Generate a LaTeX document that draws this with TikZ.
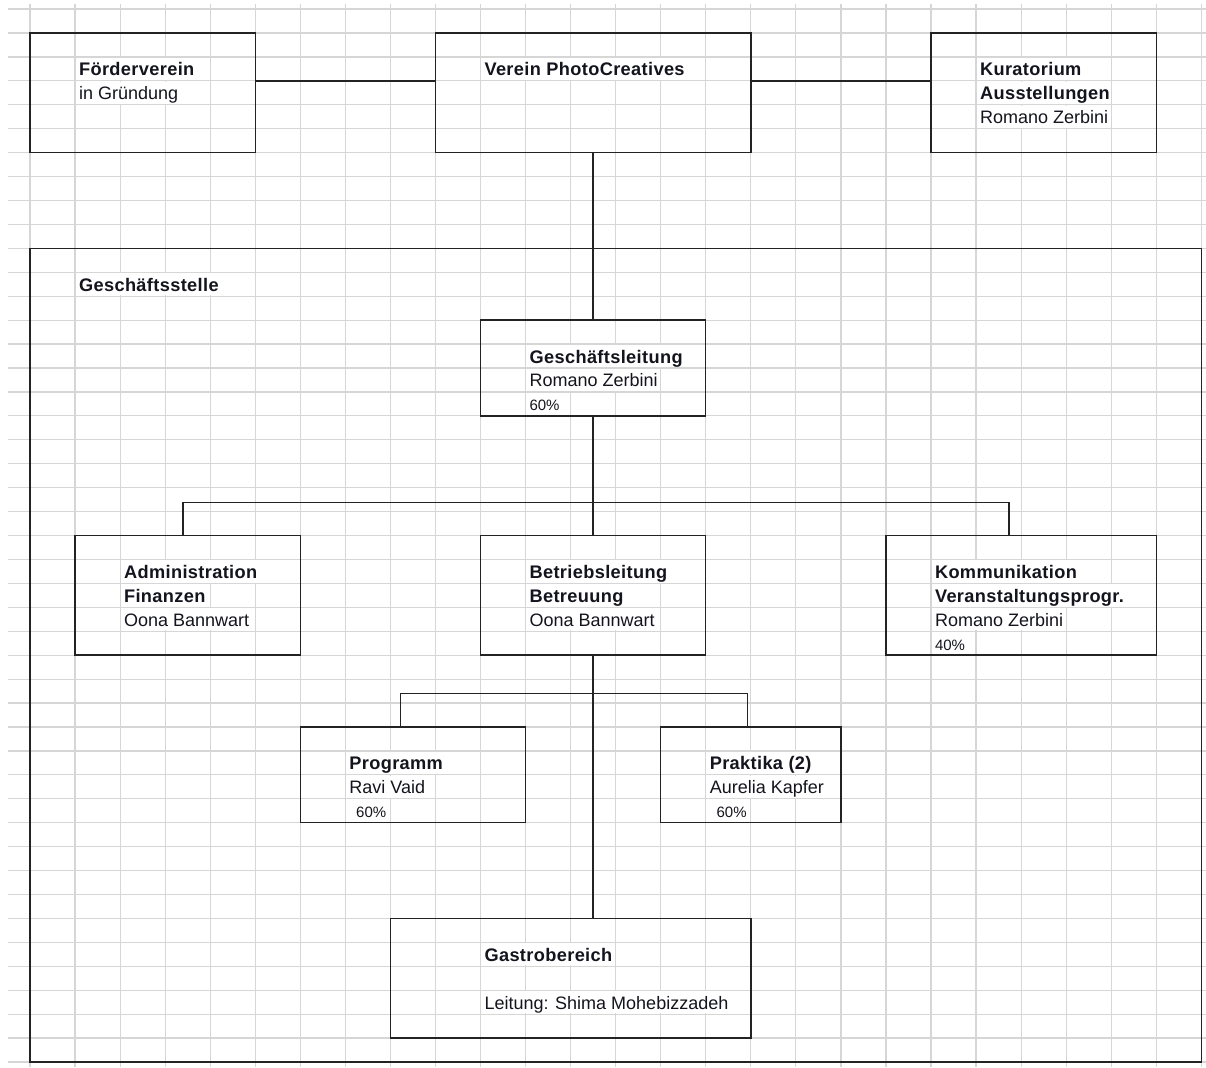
\documentclass[tikz,border=0pt]{standalone}
\usepackage{fontspec}
\setmainfont{Liberation Sans}[BoldFeatures={LetterSpace=2.0}]
\usetikzlibrary{fit}

\definecolor{gridgray}{RGB}{214,214,214}
\definecolor{linegray}{RGB}{35,35,35}
\definecolor{ink}{RGB}{20,20,30}

\tikzset{
  gridline/.style={draw=gridgray, line width=0.6pt},
  box/.style={draw=linegray, line width=0.7pt, inner sep=0pt},
  link/.style={draw=linegray, line width=0.7pt},
  cell/.style={anchor=base west, inner sep=0pt, xshift=1.8pt, yshift=2.5pt,
    fill=white, text height=9.1pt, text depth=2.1pt, text=ink,
    font=\fontsize{9pt}{11pt}\selectfont},
  head/.style={cell, font=\fontsize{9.1pt}{11pt}\selectfont\bfseries},
  pct/.style={cell, font=\fontsize{7.5pt}{9pt}\selectfont},
}

\begin{document}
\begin{tikzpicture}[x=22.525pt, y=-11.965pt]
    \useasboundingbox (-0.666, -1.379) rectangle (26.104, 43.21);

    % spreadsheet grid
    \foreach \c in {0,...,26}
        \draw[gridline] (\c, -1.21) -- (\c, 43.21);
    \foreach \r in {-1,...,43}
        \draw[gridline] (-0.488, \r) -- (26.104, \r);

    % texts
    \node[head] at (1, 2)     (foerder1) {Förderverein};
    \node[cell] at (1, 3)     (foerder2) {in Gründung};
    \node[head] at (10, 2)    (verein1)  {Verein PhotoCreatives};
    \node[head] at (21, 2)    (kurat1)   {Kuratorium};
    \node[head] at (21, 3)    (kurat2)   {Ausstellungen};
    \node[cell] at (21, 4)    (kurat3)   {Romano Zerbini};
    \node[head] at (1, 11)    (gst1)     {Geschäftsstelle};
    \node[head] at (11, 14)   (gl1)      {Geschäftsleitung};
    \node[cell] at (11, 15)   (gl2)      {Romano Zerbini};
    \node[pct]  at (11, 16)   (gl3)      {60\%};
    \node[head] at (2, 23)    (admin1)   {Administration};
    \node[head] at (2, 24)    (admin2)   {Finanzen};
    \node[cell] at (2, 25)    (admin3)   {Oona Bannwart};
    \node[head] at (11, 23)   (bl1)      {Betriebsleitung};
    \node[head] at (11, 24)   (bl2)      {Betreuung};
    \node[cell] at (11, 25)   (bl3)      {Oona Bannwart};
    \node[head] at (20, 23)   (komm1)    {Kommunikation};
    \node[head] at (20, 24)   (komm2)    {Veranstaltungsprogr.};
    \node[cell] at (20, 25)   (komm3)    {Romano Zerbini};
    \node[pct]  at (20, 26)   (komm4)    {40\%};
    \node[head] at (7, 31)    (prog1)    {Programm};
    \node[cell] at (7, 32)    (prog2)    {Ravi Vaid};
    \node[pct]  at (7, 33)    (prog3)    {\hspace{3.4pt}60\%};
    \node[head] at (15, 31)   (prak1)    {Praktika (2)};
    \node[cell] at (15, 32)   (prak2)    {Aurelia Kapfer};
    \node[pct]  at (15, 33)   (prak3)    {\hspace{3.4pt}60\%};
    \node[head] at (10, 39)   (gastro1)  {Gastrobereich};
    \node[cell] at (10, 41)   (gastro2)  {Leitung: Shima Mohebizzadeh};

    % boxes
    \node[box, fit={(0,0) (5,5)}]     (foerder) {};
    \node[box, fit={(9,0) (16,5)}]    (verein)  {};
    \node[box, fit={(20,0) (25,5)}]   (kurat)   {};
    \node[box, fit={(0,9) (26,43)}]   (gst)     {};
    \node[box, fit={(10,12) (15,16)}] (gl)      {};
    \node[box, fit={(1,21) (6,26)}]   (admin)   {};
    \node[box, fit={(10,21) (15,26)}] (bl)      {};
    \node[box, fit={(19,21) (25,26)}] (komm)    {};
    \node[box, fit={(6,29) (11,33)}]  (prog)    {};
    \node[box, fit={(14,29) (18,33)}] (prak)    {};
    \node[box, fit={(8,37) (16,42)}]  (gastro)  {};

    % connectors
    \coordinate (toprow)   at (0, 2);
    \coordinate (adminbar) at (3.40, 19.61);
    \coordinate (kommbar)  at (21.73, 19.61);
    \coordinate (progbar)  at (8.22, 27.59);
    \coordinate (prakbar)  at (15.92, 27.59);

    \draw[link] (foerder.east |- toprow) -- (verein.west |- toprow);
    \draw[link] (verein.east |- toprow) -- (kurat.west |- toprow);
    \draw[link] (verein.south) -- (gl.north);
    \draw[link] (gl.south) -- (bl.north);
    \draw[link] (admin.north -| adminbar) |- (kommbar) -- (komm.north -| kommbar);
    \draw[link] (bl.south) -- (bl.south |- gastro.north);
    \draw[link] (prog.north -| progbar) |- (prakbar) -- (prak.north -| prakbar);
\end{tikzpicture}
\end{document}
